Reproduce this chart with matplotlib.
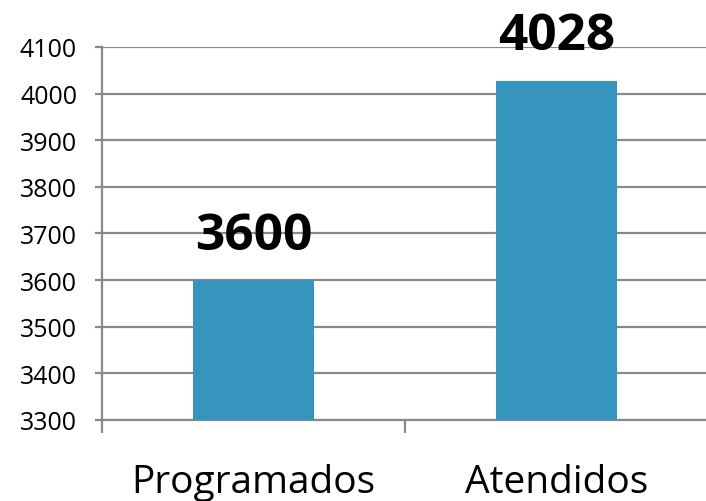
import matplotlib.pyplot as plt
import numpy as np

categorias = ['Programados', 'Atendidos']
valores = [3600, 4028]
y_ticks = [3300, 3400, 3500, 3600, 3700, 3800, 3900, 4000, 4100]

plt.rcParams['font.family'] = ['Open Sans', 'DejaVu Sans']

fig = plt.figure(figsize=(7.06, 5.02), dpi=100)
ax = fig.add_axes([0.1445, 0.1614, 0.858, 0.743])

x = np.arange(len(categorias)) + 0.5
ax.bar(x, valores, width=0.4, color='#3595BC', zorder=3)

# etiquetas de valor encima de cada barra
for xi, v in zip(x, valores):
    ax.annotate(str(v), (xi, v), xytext=(0, 14), textcoords='offset points',
                ha='center', va='bottom', fontsize=37, fontweight='bold',
                annotation_clip=False)

ax.set_ylim(3300, 4100)
ax.set_xlim(0, len(categorias))
ax.set_yticks(y_ticks)
ax.set_yticklabels([str(t) for t in y_ticks], fontsize=18)
ax.set_xticks(x)
ax.set_xticklabels(categorias, fontsize=28)
ax.set_xticks(np.arange(len(categorias) + 1), minor=True)

gris = '#898989'
ax.grid(axis='y', color=gris, linewidth=1.6, zorder=0)
ax.tick_params(axis='x', which='major', length=0, pad=31)
ax.tick_params(axis='x', which='minor', length=9, width=1.6, color=gris, direction='out')
ax.tick_params(axis='y', length=5, width=1.6, color=gris, pad=13)
for lado in ['top', 'right']:
    ax.spines[lado].set_visible(False)
for lado in ['left', 'bottom']:
    ax.spines[lado].set_color(gris)
    ax.spines[lado].set_linewidth(1.6)

plt.savefig('out.png', dpi=100)
